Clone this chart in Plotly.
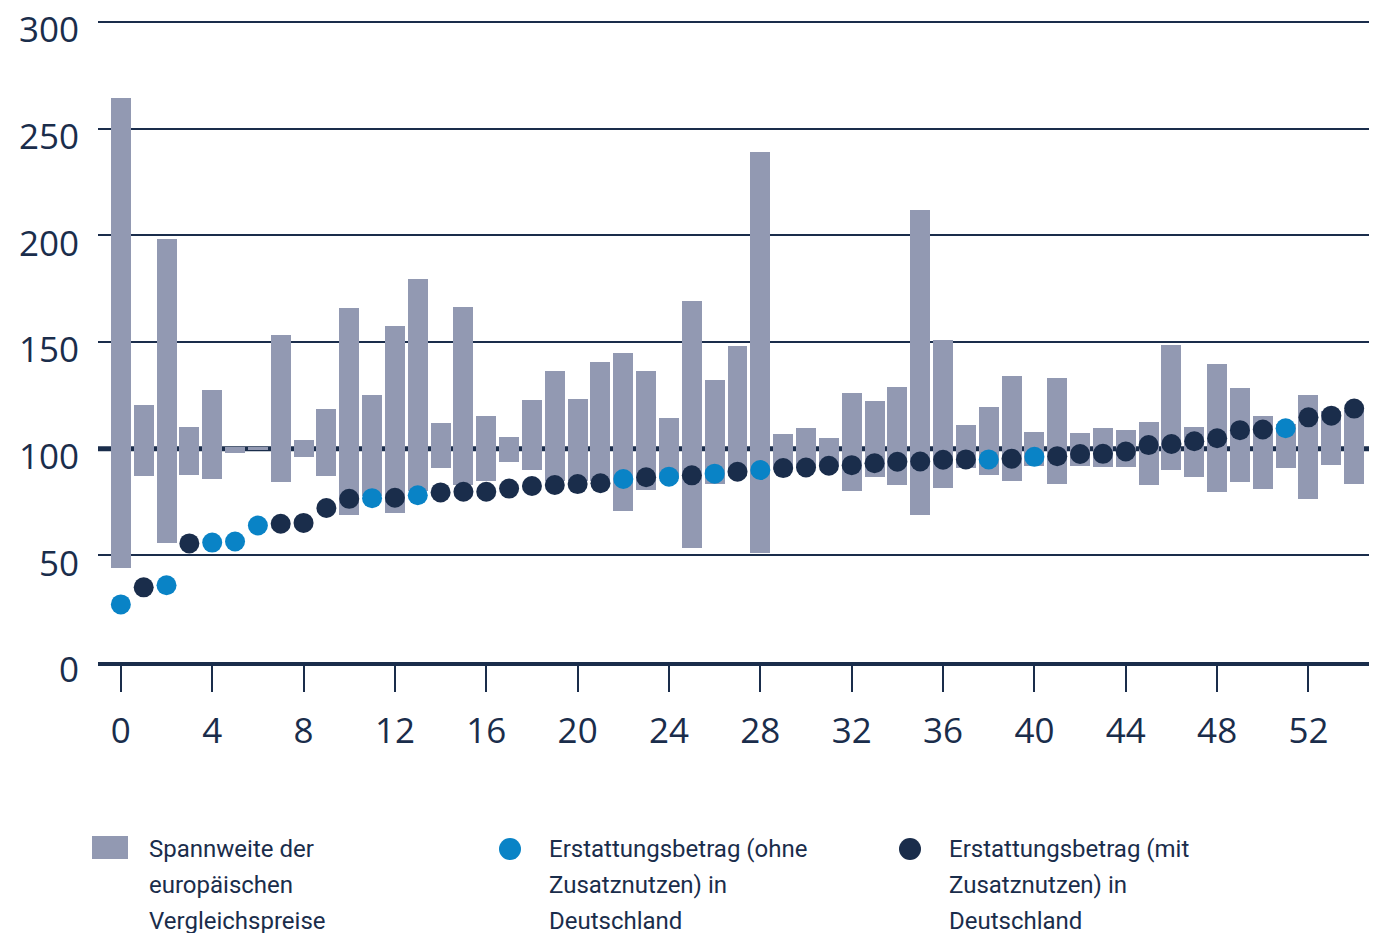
import plotly.graph_objects as go

# ---- data ----
idx = list(range(55))
range_low = [44, 87, 55.6, 87.8, 85.7, 98, 99.3, 84.2, 96.3, 87.4,
             68.8, 78, 70, 80, 91, 83, 84.8, 93.8, 89.8, 85,
             85, 85, 70.6, 80.6, 86, 53.4, 83.3, 87, 50.9, 90,
             91, 91.5, 80.2, 86.8, 83, 68.9, 81.6, 91, 87.7, 84.9,
             92, 83.5, 92, 91.5, 91.5, 83, 90.1, 86.8, 79.7, 84.4,
             81.1, 91, 76.3, 92.4, 83.6]
range_high = [264.5, 120.5, 198.5, 110.3, 127.5, 101, 100.7, 153.3, 104.2, 118.7,
              166, 125, 157.5, 179.4, 112, 166.3, 115.2, 105.3, 122.7, 136.3,
              123.1, 140.5, 144.7, 136.3, 114.2, 169.1, 132, 148, 239.2, 106.8,
              109.7, 105, 126.3, 122.5, 129.1, 212.1, 150.8, 111.2, 119.7, 134.3,
              107.9, 133.3, 107.4, 109.8, 108.8, 112.6, 148.6, 110.3, 139.6, 128.7,
              115.5, 111.7, 125.4, 117.8, 118]
refund = [27, 35, 36, 55.6, 56, 56.5, 64, 64.8, 65.2, 72.2,
          76.5, 76.8, 77, 78.2, 79.5, 79.8, 79.8, 81.3, 82.5, 83,
          83.4, 83.8, 85.8, 86.6, 86.9, 87.5, 88.3, 89.2, 90, 90.9,
          91.2, 92, 92.3, 93.2, 93.9, 94, 94.8, 95, 95, 95.3,
          96.2, 96.5, 97.5, 97.6, 98.7, 101.7, 102.2, 103.5, 104.9, 108.7,
          109, 109.6, 114.7, 115.5, 118.8]
# 1 = mit Zusatznutzen (dark), 0 = ohne Zusatznutzen (light)
added_benefit = [0, 1, 0, 1, 0, 0, 0, 1, 1, 1,
                 1, 0, 1, 0, 1, 1, 1, 1, 1, 1,
                 1, 1, 0, 1, 0, 1, 0, 1, 0, 1,
                 1, 1, 1, 1, 1, 1, 1, 1, 0, 1,
                 0, 1, 1, 1, 1, 1, 1, 1, 1, 1,
                 1, 0, 1, 1, 1]
x_ticks = list(range(0, 53, 4))
y_ticks = [0, 50, 100, 150, 200, 250, 300]

legend_lines = [["Spannweite der", "europäischen", "Vergleichspreise"],
                ["Erstattungsbetrag (ohne", "Zusatznutzen) in", "Deutschland"],
                ["Erstattungsbetrag (mit", "Zusatznutzen) in", "Deutschland"]]

NAVY = "#1a2d4b"
LIGHT = "#0983c6"
GREY = "#9299b2"

x_ohne = [i for i, b in zip(idx, added_benefit) if b == 0]
y_ohne = [v for v, b in zip(refund, added_benefit) if b == 0]
x_mit = [i for i, b in zip(idx, added_benefit) if b == 1]
y_mit = [v for v, b in zip(refund, added_benefit) if b == 1]

fig = go.Figure()
fig.add_trace(go.Bar(x=idx, base=range_low,
                     y=[h - l for h, l in zip(range_high, range_low)],
                     width=0.875, marker=dict(color=GREY, line=dict(width=0)),
                     name="Spannweite"))
fig.add_trace(go.Scatter(x=x_ohne, y=y_ohne, mode="markers",
                         marker=dict(size=20, color=LIGHT, line=dict(width=0)),
                         name="ohne"))
fig.add_trace(go.Scatter(x=x_mit, y=y_mit, mode="markers",
                         marker=dict(size=20, color=NAVY, line=dict(width=0)),
                         name="mit"))

# page has an 8px body margin; figure coordinates = page coordinates - 8
OFF = 8
W, H = 1377 - OFF, 933 - OFF
L, T = 98 - OFF, 12
R = 0
B = H - (662 - OFF)
pw, ph = W - L - R, H - T - B


def px(xp):
    return (xp - OFF - L) / pw


def py(yp):
    return (H - B - (yp - OFF)) / ph


shapes = [
    dict(type="line", xref="paper", yref="y", x0=0, x1=1, y0=100, y1=100,
         line=dict(color=NAVY, width=5), layer="below"),
    dict(type="rect", xref="paper", yref="paper", x0=px(92), x1=px(128),
         y0=py(859), y1=py(836), fillcolor=GREY, line=dict(width=0)),
    dict(type="circle", xref="paper", yref="paper", xsizemode="pixel", ysizemode="pixel",
         xanchor=px(510), yanchor=py(849), x0=-11, x1=11, y0=-11, y1=11,
         fillcolor=LIGHT, line=dict(width=0)),
    dict(type="circle", xref="paper", yref="paper", xsizemode="pixel", ysizemode="pixel",
         xanchor=px(910), yanchor=py(849), x0=-11, x1=11, y0=-11, y1=11,
         fillcolor=NAVY, line=dict(width=0)),
]

annotations = []
for xt, lines in zip([148, 548, 948], legend_lines):
    for k, line in enumerate(lines):
        annotations.append(dict(xref="paper", yref="paper", x=px(xt), y=py(849 + 36 * k),
                                xanchor="left", yanchor="middle", align="left",
                                showarrow=False, text=line, borderpad=0,
                                font=dict(family="Roboto", size=24, color=NAVY)))

fig.update_layout(
    width=W, height=H,
    margin=dict(l=L, r=R, t=T, b=B, autoexpand=False),
    paper_bgcolor="white", plot_bgcolor="white",
    showlegend=False,
    bargap=0,
    shapes=shapes,
    annotations=annotations,
    font=dict(family="Open Sans", color=NAVY),
)
fig.update_xaxes(range=[-1, 55], tickvals=x_ticks, ticks="outside", ticklen=26,
                 tickwidth=2, tickcolor=NAVY, showgrid=False, zeroline=False,
                 showline=True, linecolor=NAVY, linewidth=4, automargin=False,
                 tickfont=dict(family="Open Sans", size=35, color=NAVY),
                 ticklabelstandoff=9)
fig.update_yaxes(range=[0, 301], tickvals=y_ticks, showgrid=True, gridcolor=NAVY,
                 gridwidth=2, zeroline=False, showline=False, ticks="", automargin=False,
                 tickfont=dict(family="Open Sans", size=35, color=NAVY),
                 ticklabelstandoff=18, ticklabelshift=8, ticklabeloverflow="allow")

fig.write_html("out.html")
